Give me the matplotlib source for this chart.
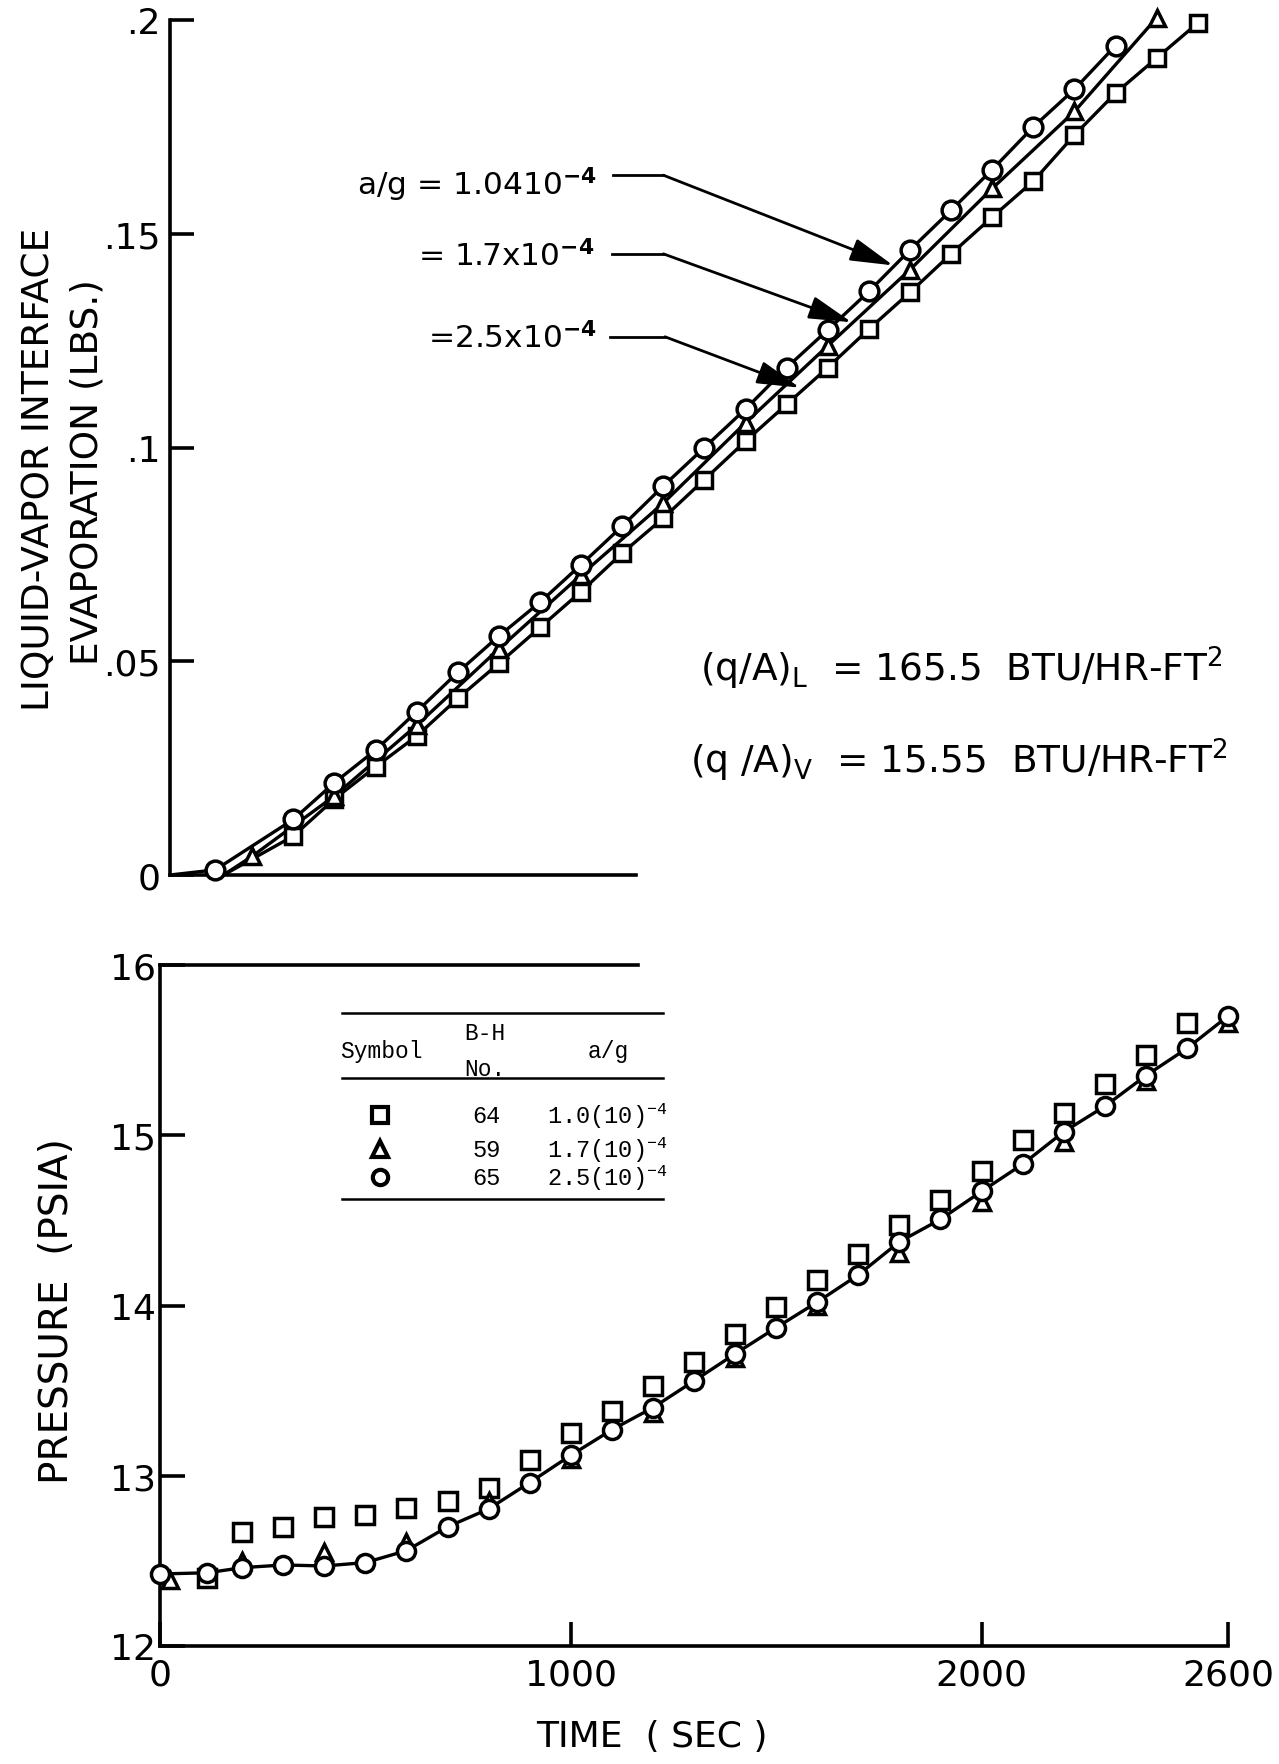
import matplotlib
matplotlib.use('Agg')
import matplotlib.pyplot as plt
from matplotlib.lines import Line2D

# ---------------- data ----------------
# Upper chart: liquid-vapor interface evaporation (lbs) vs time (sec)
evap_circ_t = [110, 300, 400, 500, 600, 700, 800, 900, 1000, 1100, 1200, 1300,
               1400, 1500, 1600, 1700, 1800, 1900, 2000, 2100, 2200, 2300]
evap_circ_v = [0.0012, 0.0130, 0.0216, 0.0292, 0.0382, 0.0474, 0.0559, 0.0638,
               0.0726, 0.0816, 0.0910, 0.1000, 0.1090, 0.1187, 0.1275, 0.1365,
               0.1462, 0.1555, 0.1650, 0.1750, 0.1838, 0.1940]
evap_tri_t = [200, 400, 600, 800, 1000, 1200, 1400, 1600, 1800, 2000, 2200, 2400]
evap_tri_v = [0.0044, 0.0185, 0.0350, 0.0529, 0.0702, 0.0870, 0.1058, 0.1238,
              0.1416, 0.1606, 0.1786, 0.2005]
evap_sq_t = [300, 400, 500, 600, 700, 800, 900, 1000, 1100, 1200, 1300, 1400,
             1500, 1600, 1700, 1800, 1900, 2000, 2100, 2200, 2300, 2400, 2500]
evap_sq_v = [0.0091, 0.0178, 0.0253, 0.0325, 0.0413, 0.0495, 0.0579, 0.0663,
             0.0753, 0.0835, 0.0925, 0.1015, 0.1101, 0.1187, 0.1277, 0.1363,
             0.1453, 0.1539, 0.1623, 0.1731, 0.1829, 0.1911, 0.1993]
# where each faired curve leaves the time axis
curve_start_circ = (0, 0.0)
curve_start_tri = (130, 0.0)
curve_start_sq = (130, 0.0)

# Lower chart: pressure (psia) vs time (sec)
pres_circ_t = [0, 115, 200, 300, 400, 500, 600, 700, 800, 900, 1000, 1100, 1200,
               1300, 1400, 1500, 1600, 1700, 1800, 1900, 2000, 2100, 2200, 2300,
               2400, 2500, 2600]
pres_circ = [12.423, 12.430, 12.460, 12.476, 12.470, 12.490, 12.560, 12.700,
             12.805, 12.960, 13.120, 13.270, 13.400, 13.557, 13.716, 13.870,
             14.020, 14.180, 14.374, 14.506, 14.670, 14.830, 15.020, 15.170,
             15.350, 15.510, 15.700]
pres_sq_t = [115, 200, 300, 400, 500, 600, 700, 800, 900, 1000, 1100, 1200, 1300,
             1400, 1500, 1600, 1700, 1800, 1900, 2000, 2100, 2200, 2300, 2400, 2500]
pres_sq = [12.40, 12.67, 12.70, 12.76, 12.77, 12.81, 12.85, 12.93, 13.09, 13.25,
           13.38, 13.53, 13.67, 13.83, 13.99, 14.15, 14.30, 14.47, 14.62, 14.79,
           14.97, 15.13, 15.30, 15.47, 15.66]
pres_tri_t = [25, 200, 400, 600, 800, 1000, 1200, 1400, 1600, 1800, 2000, 2200,
              2400, 2600]
pres_tri = [12.385, 12.50, 12.55, 12.61, 12.85, 13.10, 13.37, 13.69, 14.00,
            14.31, 14.61, 14.96, 15.32, 15.66]

# tick labels
evap_ticks = [0, 0.05, 0.1, 0.15, 0.2]
evap_ticklabels = ['0', '.05', '.1', '.15', '.2']
pres_ticks = [12, 13, 14, 15, 16]
pres_ticklabels = ['12', '13', '14', '15', '16']
time_ticks = [0, 1000, 2000, 2600]
time_ticklabels = ['0', '1000', '2000', '2600']

# legend table
legend_markers = ['s', '^', 'o']
legend_bh = ['64', '59', '65']
legend_ag = ['1.0(10)$^{-4}$', '1.7(10)$^{-4}$', '2.5(10)$^{-4}$']

# ---------------- style ----------------
plt.rcParams['font.family'] = ['DejaVu Sans']
plt.rcParams['mathtext.fontset'] = 'dejavusans'
plt.rcParams['mathtext.rm'] = 'Liberation Mono'
plt.rcParams['mathtext.it'] = 'Liberation Mono'
plt.rcParams['mathtext.bf'] = 'Liberation Mono'

W, H = 1279, 1765
fig = plt.figure(figsize=(W / 100, H / 100), dpi=100)
fig.patch.set_facecolor('white')

SPINE_LW = 2.6
LINE_LW = 2.4
MEW = 2.5

def fx(px):
    return px / W

def fy(py):
    return 1 - py / H

# ---------------- upper chart ----------------
ax1 = fig.add_axes([fx(170), fy(876), 1068.9 / W, 855 / H])
ax1.set_xlim(0, 2600)
ax1.set_ylim(0, 0.2)
for s in ['top', 'right']:
    ax1.spines[s].set_visible(False)
ax1.spines['left'].set_linewidth(SPINE_LW)
ax1.spines['bottom'].set_linewidth(SPINE_LW)
ax1.spines['bottom'].set_bounds(0, 1134)
ax1.set_xticks([])
ax1.set_yticks(evap_ticks)
ax1.set_yticklabels(evap_ticklabels)
ax1.tick_params(axis='y', direction='in', length=17, width=SPINE_LW,
                labelsize=26, pad=7)

ax1.plot([curve_start_sq[0]] + evap_sq_t, [curve_start_sq[1]] + evap_sq_v,
         color='black', lw=LINE_LW, zorder=2, solid_capstyle='round')
ax1.plot([curve_start_tri[0]] + evap_tri_t, [curve_start_tri[1]] + evap_tri_v,
         color='black', lw=LINE_LW, zorder=2, solid_capstyle='round')
ax1.plot([curve_start_circ[0]] + evap_circ_t, [curve_start_circ[1]] + evap_circ_v,
         color='black', lw=LINE_LW, zorder=2, solid_capstyle='round')
ax1.plot(evap_sq_t, evap_sq_v, ls='none', marker='s', ms=12, mfc='white',
         mec='black', mew=MEW, zorder=3, clip_on=False)
ax1.plot(evap_tri_t, evap_tri_v, ls='none', marker='^', ms=12, mfc='white',
         mec='black', mew=MEW, zorder=4, clip_on=False)
ax1.plot(evap_circ_t, evap_circ_v, ls='none', marker='o', ms=13.5, mfc='white',
         mec='black', mew=MEW, zorder=5, clip_on=False)

# leader annotations
labels_ag = [r'a/g = 1.0410$^{\mathbf{-4}}$', r'= 1.7x10$^{\mathbf{-4}}$',
             r'=2.5x10$^{\mathbf{-4}}$']
text_pos = [(1039, 0.1617), (1033, 0.1450), (1039, 0.1257)]
lead_start = [(1078, 0.1637), (1074, 0.1453), (1070, 0.1259)]
lead_kink = [(1200, 0.1637), (1200, 0.1453), (1204, 0.1259)]
lead_head = [(1759, 0.1426), (1658, 0.1293), (1532, 0.1140)]
for lab, tp, ls_, lk, lh in zip(labels_ag, text_pos, lead_start, lead_kink, lead_head):
    ax1.text(tp[0], tp[1], lab, ha='right', va='center', fontsize=22.5, zorder=6)
    ax1.add_line(Line2D([ls_[0], lk[0]], [ls_[1], lk[1]], color='black',
                        lw=2.0, zorder=6))
    ax1.annotate('', xy=lh, xytext=lk,
                 arrowprops=dict(arrowstyle='-|>,head_length=1.2,head_width=0.32',
                                 color='black', lw=2.0, shrinkA=0, shrinkB=0,
                                 mutation_scale=22), zorder=6)

ax1.text(1290, 0.0486, r'(q/A)$_\mathrm{L}$  = 165.5  BTU/HR-FT$^2$',
         ha='left', va='center', fontsize=27)
ax1.text(1266, 0.0271, r'(q /A)$_\mathrm{V}$  = 15.55  BTU/HR-FT$^2$',
         ha='left', va='center', fontsize=27)

# ---------------- lower chart ----------------
ax2 = fig.add_axes([fx(160), 118 / H, 1068 / W, 681 / H])
ax2.set_xlim(0, 2600)
ax2.set_ylim(12, 16)
ax2.spines['right'].set_visible(False)
for s in ['left', 'bottom', 'top']:
    ax2.spines[s].set_linewidth(SPINE_LW)
ax2.spines['top'].set_bounds(0, 1164)
ax2.set_yticks(pres_ticks)
ax2.set_yticklabels(pres_ticklabels)
ax2.set_xticks(time_ticks)
ax2.set_xticklabels(time_ticklabels)
ax2.tick_params(axis='y', direction='in', length=18, width=SPINE_LW,
                labelsize=26, pad=3)
ax2.tick_params(axis='x', direction='in', length=17, width=SPINE_LW,
                labelsize=26, pad=8)

ax2.plot(pres_sq_t, pres_sq, ls='none', marker='s', ms=12.5, mfc='white',
         mec='black', mew=MEW, zorder=3, clip_on=False)
ax2.plot(pres_tri_t, pres_tri, ls='none', marker='^', ms=12, mfc='white',
         mec='black', mew=MEW, zorder=4, clip_on=False)
ax2.plot(pres_circ_t, pres_circ, color='black', lw=LINE_LW, zorder=5,
         marker='o', ms=13, mfc='white', mec='black', mew=MEW, clip_on=False)

# legend table (axes-fraction coordinates)
tr = ax2.transAxes
for yl in [0.9295, 0.8336, 0.6564]:
    ax2.add_line(Line2D([0.1701, 0.4713], [yl, yl], transform=tr,
                        color='black', lw=1.8))
mono = 'Liberation Mono'
ax2.text(0.2076, 0.8741, 'Symbol', transform=tr, ha='center', va='center',
         fontsize=16.5, family=mono)
ax2.text(0.3043, 0.9012, 'B-H', transform=tr, ha='center', va='center',
         fontsize=16.5, family=mono)
ax2.text(0.3043, 0.8473, 'No.', transform=tr, ha='center', va='center',
         fontsize=16.5, family=mono)
ax2.text(0.4198, 0.8741, 'a/g', transform=tr, ha='center', va='center',
         fontsize=16.5, family=mono)
row_y = [0.7797, 0.7298, 0.6882]
for mk, bh, ag, yr in zip(legend_markers, legend_bh, legend_ag, row_y):
    ax2.plot([0.206], [yr], transform=tr, ls='none', marker=mk, ms=11,
             mfc='white', mec='black', mew=3.0, clip_on=False)
    ax2.text(0.3059, yr, bh, transform=tr, ha='center', va='center',
             fontsize=17, family=mono)
    ax2.text(0.3620, yr, ag, transform=tr, ha='left', va='center',
             fontsize=17, family=mono, math_fontfamily='custom')

# ---------------- axis titles ----------------
fig.text(fx(39), fy(469), 'LIQUID-VAPOR INTERFACE', rotation=90,
         ha='center', va='center', fontsize=27)
fig.text(fx(88), fy(472), 'EVAPORATION (LBS.)', rotation=90,
         ha='center', va='center', fontsize=27)
fig.text(fx(57), fy(1311), 'PRESSURE  (PSIA)', rotation=90,
         ha='center', va='center', fontsize=28)
fig.text(fx(652), fy(1737), 'TIME  ( SEC )', ha='center', va='center',
         fontsize=26)

fig.savefig('out.png', dpi=100, facecolor='white')
